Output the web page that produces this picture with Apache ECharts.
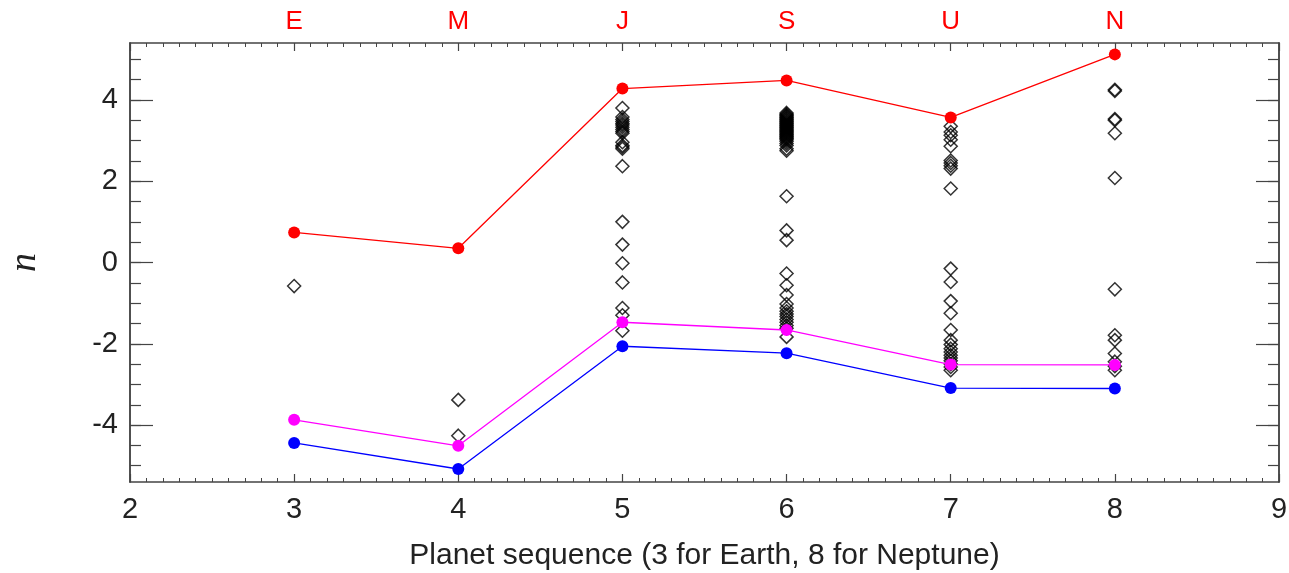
<!DOCTYPE html>
<html>
<head>
<meta charset="utf-8">
<script src="https://cdn.jsdelivr.net/npm/echarts@6/dist/echarts.min.js"></script>
<style>html,body{margin:0;padding:0;background:#fff}#c{width:1289px;height:573px}</style>
</head>
<body>
<div id="c"></div>
<script>
// Planet positions and top labels
const planetX = [3, 4, 5, 6, 7, 8];
const planetLetters = ['E', 'M', 'J', 'S', 'U', 'N'];

// Line series (values at planets 3..8)
const redValues = [0.74, 0.35, 4.28, 4.48, 3.57, 5.12];
const magentaValues = [-3.87, -4.51, -1.47, -1.66, -2.51, -2.52];
const blueValues = [-4.44, -5.08, -2.06, -2.23, -3.09, -3.10];

// Diamond values per planet
const diamondsE = [-0.58];
const diamondsM = [-3.38, -4.26];
const diamondsJ = [3.80, 3.58, 3.52, 3.47, 3.42, 3.38, 3.33, 3.27, 3.22, 3.18, 2.96, 2.88, 2.84, 2.80, 2.37, 1.00, 0.44, -0.02, -0.49, -1.12, -1.30, -1.68];
const diamondsS = [3.68, 3.65, 3.62, 3.60, 3.57, 3.55, 3.52, 3.50, 3.47, 3.45, 3.42, 3.40, 3.37, 3.35, 3.32, 3.30, 3.27, 3.25, 3.22, 3.20, 3.17, 3.15, 3.12, 3.10, 3.07, 3.05, 3.02, 2.98, 2.93, 2.88, 2.80, 2.75, 1.63, 0.79, 0.55, -0.27, -0.56, -0.80, -1.02, -1.12, -1.20, -1.27, -1.33, -1.40, -1.47, -1.55, -1.62, -1.83];
const diamondsU = [3.35, 3.21, 3.13, 3.02, 2.86, 2.51, 2.45, 2.38, 2.31, 1.82, -0.15, -0.48, -0.95, -1.25, -1.66, -1.91, -2.02, -2.12, -2.20, -2.28, -2.35, -2.42, -2.50, -2.57, -2.65];
const diamondsN = [4.25, 4.22, 3.53, 3.50, 3.18, 2.08, -0.66, -1.79, -1.91, -2.24, -2.44, -2.55, -2.65];

// Axis tick values
const xTicks = [2, 3, 4, 5, 6, 7, 8, 9];
const yTicks = [-4, -2, 0, 2, 4];
const yMinorTicks = [];
for (let k = -10; k <= 10; k++) yMinorTicks.push(k / 2);

const diamondGroups = [diamondsE, diamondsM, diamondsJ, diamondsS, diamondsU, diamondsN];
const diamondData = [];
diamondGroups.forEach((g, i) => g.forEach(v => diamondData.push([planetX[i], v])));

const pair = arr => arr.map((v, i) => [planetX[i], v]);

const FONT = '"Liberation Sans", Arial, Helvetica, sans-serif';
const frameColor = '#444';

const chart = echarts.init(document.getElementById('c'), null, {renderer: 'canvas'});

const baseX = {
  type: 'value', min: 2, max: 9, interval: 1,
  axisLine: {show: true, onZero: false, lineStyle: {color: frameColor, width: 1.5}},
  axisTick: {show: true, inside: true, length: 8, lineStyle: {color: frameColor, width: 1.2}},
  minorTick: {show: true, splitNumber: 10, length: 4, lineStyle: {color: frameColor, width: 1}},
  splitLine: {show: false}
};
const mkY = (pos, major, withLabels) => ({
  type: 'value', min: -5.4, max: 5.4, position: pos,
  axisLine: {show: true, onZero: false, lineStyle: {color: frameColor, width: 1.5}},
  axisTick: {show: true, inside: true, length: major ? 23 : 11,
    customValues: major ? yTicks : yMinorTicks,
    lineStyle: {color: frameColor, width: 1.2}},
  axisLabel: withLabels ? {show: true, margin: 12, fontFamily: FONT, fontSize: 29, color: '#222',
    customValues: yTicks, formatter: v => String(v)} : {show: false},
  splitLine: {show: false}
});

const yLeft = mkY('left', true, true);
Object.assign(yLeft, {
  name: 'n', nameLocation: 'middle', nameGap: 86, nameRotate: 90,
  nameTextStyle: {fontFamily: '"Liberation Serif", "DejaVu Serif", serif', fontStyle: 'italic', fontSize: 38, color: '#222'}
});

chart.setOption({
  animation: false,
  backgroundColor: '#fff',
  grid: {left: 130, right: 10, top: 43, bottom: 91, containLabel: false, outerBoundsMode: 'none'},
  xAxis: [
    Object.assign({}, baseX, {
      position: 'bottom',
      name: 'Planet sequence (3 for Earth, 8 for Neptune)',
      nameLocation: 'middle', nameGap: 59,
      nameTextStyle: {fontFamily: FONT, fontSize: 30, color: '#222'},
      axisLabel: {show: true, margin: 13, fontFamily: FONT, fontSize: 29, color: '#222',
        formatter: v => xTicks.includes(v) ? String(v) : ''}
    }),
    Object.assign({}, baseX, {
      position: 'top',
      axisLabel: {show: true, margin: 8, fontFamily: FONT, fontSize: 26, color: '#ff0000',
        formatter: v => { const i = planetX.indexOf(v); return i >= 0 ? planetLetters[i] : ''; }}
    })
  ],
  yAxis: [
    yLeft,
    mkY('left', false, false),
    mkY('right', true, false),
    mkY('right', false, false)
  ],
  series: [
    {
      type: 'scatter', xAxisIndex: 0, yAxisIndex: 0,
      symbol: 'diamond', symbolSize: [13, 13],
      itemStyle: {color: 'rgba(0,0,0,0)', borderColor: '#000', borderWidth: 1.5},
      data: diamondData, z: 2
    },
    {
      type: 'line', xAxisIndex: 0, yAxisIndex: 0, data: pair(redValues),
      symbol: 'circle', symbolSize: 12,
      lineStyle: {color: '#ff0000', width: 1.3}, itemStyle: {color: '#ff0000'}, z: 3
    },
    {
      type: 'line', xAxisIndex: 0, yAxisIndex: 0, data: pair(magentaValues),
      symbol: 'circle', symbolSize: 12,
      lineStyle: {color: '#ff00ff', width: 1.3}, itemStyle: {color: '#ff00ff'}, z: 3
    },
    {
      type: 'line', xAxisIndex: 0, yAxisIndex: 0, data: pair(blueValues),
      symbol: 'circle', symbolSize: 12,
      lineStyle: {color: '#0000ff', width: 1.3}, itemStyle: {color: '#0000ff'}, z: 3
    }
  ]
});
</script>
</body>
</html>
